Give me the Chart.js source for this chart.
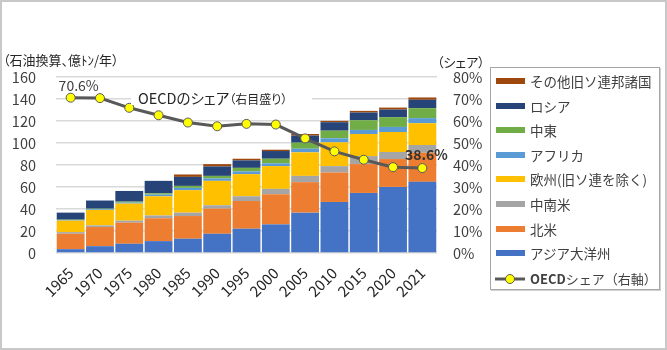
<!DOCTYPE html>
<html>
<head>
<meta charset="utf-8">
<script src="https://cdn.jsdelivr.net/npm/chart.js@4"></script>
<style>
  body { margin: 0; background: #fff; font-family: 'Noto Sans CJK JP', sans-serif; color: #404040; }
  #frame { position: absolute; left: 0; top: 0; width: 667px; height: 350px; box-sizing: border-box; border: 2px solid #c8c8c8; pointer-events: none; }
  #wrap { position: absolute; left: 0; top: 0; width: 667px; height: 350px; }
  .ttl { position: absolute; font-size: 13px; white-space: nowrap; font-feature-settings: "palt"; color: #262626; }
  #note { position: absolute; left: 131px; top: 85px; width: 181px; height: 20px; background: #fff; white-space: nowrap; font-feature-settings: "palt"; color: #262626; }
  #note .big { font-size: 14.5px; margin-left: 7px; }
  #note .small { font-size: 12px; }
  #legend { position: absolute; left: 490px; top: 67px; width: 170px; height: 223px; box-sizing: border-box; border: 1px solid #a6a6a6; box-shadow: 1px 1px 0 #d0d0d0; }
  .item { position: absolute; left: 5px; height: 20px; font-size: 13.5px; white-space: nowrap; color: #404040; }
  .sw { position: absolute; left: 0; top: 7px; width: 29px; height: 6px; box-sizing: border-box; }
  .lbl { position: absolute; left: 34px; top: 0; line-height: 20px; }
</style>
</head>
<body>
<div id="wrap"><canvas id="chart" width="667" height="350"></canvas></div>
<div class="ttl" style="left:3px; top:50px;">（石油換算、億ﾄﾝ/年）</div>
<div class="ttl" style="left:437px; top:52px;">（シェア）</div>
<div id="note"><span class="big">OECDのシェア</span><span class="small">（右目盛り）</span></div>
<div id="legend"></div>
<div id="frame"></div>
<script>
const years = ['1965', '1970', '1975', '1980', '1985', '1990', '1995', '2000', '2005', '2010', '2015', '2020', '2021'];

// 億トン (oil equivalent)
const asiaPacific  = [3.5, 6.2, 8.4, 10.8, 13.0, 17.5, 22.1, 26.0, 36.7, 46.4, 54.6, 60.1, 64.7];
const northAmerica = [14.0, 17.4, 19.2, 20.8, 20.6, 22.9, 25.2, 27.4, 27.7, 26.8, 26.2, 25.3, 26.4];
const latinAmerica = [1.5, 1.5, 1.8, 2.5, 3.1, 3.0, 4.3, 4.9, 5.7, 5.8, 7.3, 6.4, 7.1];
const europe       = [10.4, 14.0, 15.5, 17.5, 20.4, 22.2, 20.1, 20.7, 21.4, 21.6, 20.1, 18.2, 19.8];
const africa       = [0.5, 0.6, 0.9, 1.5, 2.1, 2.2, 2.5, 2.5, 3.3, 3.7, 3.7, 4.6, 4.6];
const middleEast   = [0.4, 0.6, 0.9, 1.2, 1.8, 2.3, 3.2, 4.2, 5.5, 6.9, 8.8, 8.9, 9.1];
const russia       = [6.4, 7.4, 9.7, 11.3, 8.2, 8.6, 6.8, 7.0, 6.4, 7.7, 7.0, 6.9, 7.6];
const otherFsu     = [0, 0, 0, 0, 2.2, 2.1, 1.5, 1.2, 1.5, 1.2, 1.5, 1.8, 2.1];

// OECD share, % (right axis)
const oecdShare = [70.6, 70.4, 66.0, 62.6, 59.3, 57.6, 58.7, 58.4, 52.1, 46.2, 42.4, 39.0, 38.6];

const seriesNames  = ['アジア大洋州', '北米', '中南米', '欧州(旧ソ連を除く)', 'アフリカ', '中東', 'ロシア', 'その他旧ソ連邦諸国'];
const seriesData   = [asiaPacific, northAmerica, latinAmerica, europe, africa, middleEast, russia, otherFsu];
const seriesColors = ['#4472C4', '#ED7D31', '#A5A5A5', '#FFC000', '#5B9BD5', '#70AD47', '#264478', '#9E480E'];
const lineName = 'OECDシェア（右軸）';

const FONT = "'Noto Sans CJK JP', sans-serif";

const datasets = seriesNames.map((name, i) => ({
  type: 'bar',
  label: name,
  data: seriesData[i],
  backgroundColor: seriesColors[i],
  borderWidth: 0,
  yAxisID: 'y',
  order: 1,
  categoryPercentage: 0.95,
  barPercentage: 1
}));

datasets.push({
  type: 'line',
  label: lineName,
  data: oecdShare,
  yAxisID: 'y1',
  order: 0,
  borderColor: '#595959',
  borderWidth: 3,
  pointRadius: 4.5,
  pointBackgroundColor: '#FFFF00',
  pointBorderColor: '#595959',
  pointBorderWidth: 1,
  tension: 0
});

// labels on the first and last share points
const shareLabels = {
  id: 'shareLabels',
  afterDatasetsDraw(chart) {
    const idx = chart.data.datasets.length - 1;
    const pts = chart.getDatasetMeta(idx).data;
    const first = pts[0], last = pts[pts.length - 1];
    const ctx = chart.ctx;
    ctx.save();
    ctx.textAlign = 'center';
    ctx.textBaseline = 'middle';
    ctx.fillStyle = '#404040';
    ctx.font = '14px ' + FONT;
    ctx.fillText(oecdShare[0].toFixed(1) + '%', first.x + 8, first.y - 12);
    ctx.fillStyle = '#333333';
    ctx.font = 'bold 14px ' + FONT;
    ctx.fillText(oecdShare[oecdShare.length - 1].toFixed(1) + '%', last.x + 4, last.y - 13);
    ctx.restore();
  }
};

new Chart(document.getElementById('chart'), {
  data: { labels: years, datasets: datasets },
  options: {
    responsive: false,
    animation: false,
    devicePixelRatio: 1,
    layout: { padding: { left: 0, top: 77, right: 180, bottom: 52 } },
    plugins: { legend: { display: false }, tooltip: { enabled: false } },
    scales: {
      x: {
        stacked: true,
        grid: { display: false, drawTicks: false },
        border: { display: false },
        ticks: { color: '#262626', font: { family: FONT, size: 15 }, minRotation: 45, maxRotation: 45, padding: 11, autoSkip: false },
        afterFit: (s) => { s.height = 45; }
      },
      y: {
        stacked: true,
        min: 0, max: 160,
        ticks: { stepSize: 20, color: '#404040', font: { family: FONT, size: 14.5 }, padding: 20 },
        grid: { color: '#d9d9d9', lineWidth: 1.5, drawTicks: false },
        border: { display: false },
        afterFit: (s) => { s.width = 56; }
      },
      y1: {
        position: 'right',
        min: 0, max: 80,
        ticks: { stepSize: 10, color: '#404040', font: { family: FONT, size: 14.5 }, padding: 16, callback: (v) => v + '%' },
        grid: { drawOnChartArea: false, drawTicks: false },
        border: { display: false },
        afterFit: (s) => { s.width = 50; }
      }
    }
  },
  plugins: [shareLabels]
});

// legend box, top entry first like the original
const legend = document.getElementById('legend');
const rowTop = 3, rowStep = 24.6;
const order = [7, 6, 5, 4, 3, 2, 1, 0];
order.forEach((si, r) => {
  const c = seriesColors[si];
  legend.insertAdjacentHTML('beforeend',
    `<div class="item" style="top:${rowTop + r * rowStep}px"><div class="sw" style="background:${c}; border:1px solid ${c}"></div><div class="lbl">${seriesNames[si]}</div></div>`);
});
legend.insertAdjacentHTML('beforeend',
  `<div class="item" style="top:${rowTop + 8 * rowStep + 1}px">
     <svg width="30" height="20" style="position:absolute;left:-1px;top:0"><line x1="0" y1="10" x2="30" y2="10" stroke="#595959" stroke-width="3"/><circle cx="15" cy="10" r="4.5" fill="#FFFF00" stroke="#595959" stroke-width="1"/></svg>
     <div class="lbl" style="font-size:13px"><b>OECD</b>シェア（右軸）</div></div>`);
</script>
</body>
</html>
